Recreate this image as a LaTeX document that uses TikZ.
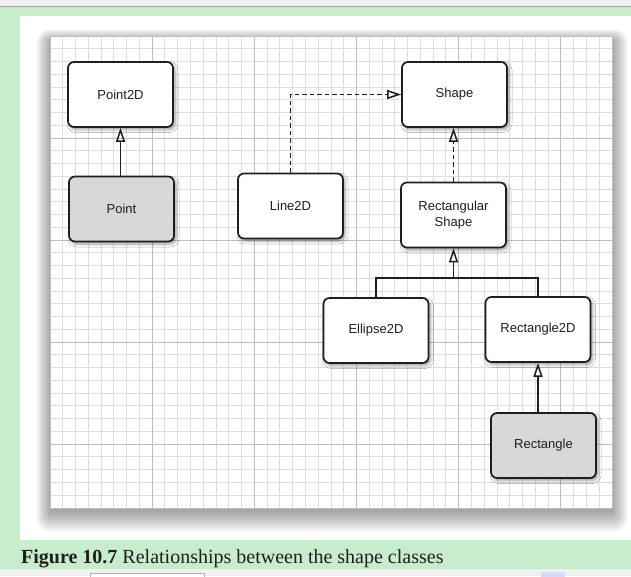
\documentclass[tikz,border=0pt]{standalone}
\usepackage{fontspec}
\setmainfont{Liberation Serif}
\setsansfont{Liberation Sans}
\usetikzlibrary{arrows.meta,shadows.blur,calc}
\definecolor{pagegray}{RGB}{240,240,240}
\definecolor{capgreen}{RGB}{200,237,204}
\definecolor{minorgrid}{RGB}{222,222,222}
\definecolor{majorgrid}{RGB}{190,190,190}
\definecolor{boxgray}{RGB}{216,216,216}
\definecolor{ink}{RGB}{30,30,30}
\tikzset{
  cls/.style={draw=ink, line width=1.7pt, rounded corners=6pt, fill=white,
    minimum width=105pt, minimum height=65pt, align=center,
    font=\sffamily\fontsize{13}{15.5}\selectfont, text=ink,
    blur shadow={shadow xshift=2pt, shadow yshift=-2.5pt, shadow blur radius=3pt, shadow opacity=40}},
  clsgray/.style={cls, fill=boxgray},
  inh/.style={line width=1.8pt, draw=ink, -{Triangle[open, length=14pt, width=9pt, line width=1.5pt]}},
  realize/.style={inh, dash pattern=on 4.5pt off 3pt},
  tree/.style={line width=1.8pt, draw=ink},
  minorline/.style={draw=minorgrid, line width=1pt},
  majorline/.style={draw=majorgrid, line width=1pt},
  shadowlayer/.style={fill=black, opacity=0.022},
}
\begin{document}
\begin{tikzpicture}[x=1pt,y=-1pt]
\useasboundingbox (0,0) rectangle (631,576);
\clip (0,0) rectangle (631,576);
% page background
\fill[pagegray] (0,0) rectangle (631,576);
\draw[black!35, line width=1pt] (0,6.5) -- (631,6.5);
\fill[capgreen] (0,7) rectangle (631,569);
\fill[white] (20,16) rectangle (631,540);
% grid panel with soft shadow
\foreach \k in {1,...,16} {
  \fill[shadowlayer, rounded corners={\k*0.8pt}] ({51-\k*0.9},{42-\k*0.8}) rectangle ({612+\k*1.0},{511+\k*1.3});
}
\fill[white] (50,36) rectangle (612,508);
\foreach \i in {0,...,44} { \draw[minorline] ({50+\i*12.773},36) -- ++(0,472); }
\foreach \j in {0,...,37} { \draw[minorline] (50,{36+\j*12.757}) -- ++(562,0); }
\foreach \i in {8,16,24,32,40} { \draw[majorline] ({50+\i*12.773},36) -- ++(0,472); }
\foreach \j in {8,16,24,32} { \draw[majorline] (50,{36+\j*12.757}) -- ++(562,0); }
\draw[majorline] (50,36) rectangle (612,508);
% classes
\node[cls] (p2d) at (120.5,94.5) {Point2D};
\node[clsgray] (pt) at (121.5,209) {Point};
\node[cls] (l2d) at (290.5,206) {Line2D};
\node[cls] (shape) at (454.5,94.5) {Shape};
\node[cls] (rs) at (453.5,215) {Rectangular\\Shape};
\node[cls] (e2d) at (376,330.5) {Ellipse2D};
\node[cls] (r2d) at (538,329.5) {Rectangle2D};
\node[clsgray] (rect) at (543.5,445.5) {Rectangle};
% connectors
\draw[inh] (p2d.south |- pt.north) -- (p2d.south);
\draw[realize] (l2d.north) |- (shape.west);
\draw[realize] (rs.south |- rs.north) -- (rs.south |- shape.south);
\coordinate (join) at ($(rs.south)+(0,30)$);
\draw[tree] (e2d.north) |- (join) -| (r2d.north);
\draw[inh] (join) -- (rs.south);
\draw[inh] (r2d.south |- rect.north) -- (r2d.south);
% caption
\node[anchor=base west, inner sep=0, text=ink, font=\fontsize{20}{23}\selectfont] (cap) at (21,563) {\textbf{Figure 10.7} Relationships between the shape classes};
% bottom strip pieces
\draw[black!30, fill=white] (90,573) rectangle (204,582);
\fill[blue!15] (541,572) rectangle (565,582);
\end{tikzpicture}
\end{document}
